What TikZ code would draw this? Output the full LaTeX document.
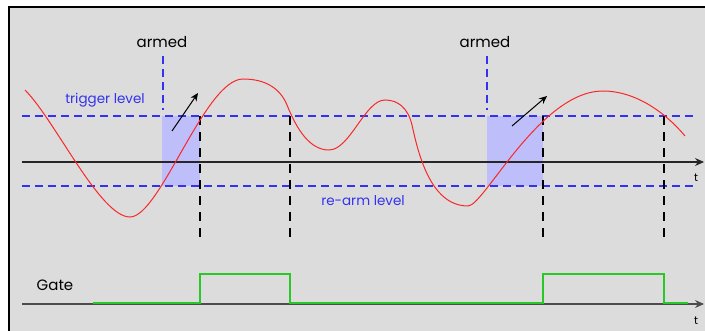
\documentclass[tikz,border=0pt]{standalone}
\usepackage{fontspec}
\setmainfont{Poppins}
\usetikzlibrary{arrows.meta}
\definecolor{bg}{RGB}{220,220,220}
\definecolor{lvl}{RGB}{50,50,240}
\definecolor{armfill}{RGB}{190,190,250}
\definecolor{sig}{RGB}{250,40,40}
\definecolor{gatecol}{RGB}{40,200,40}
\tikzset{
  lvlline/.style={lvl, line width=1.1pt, dash pattern=on 8pt off 5pt},
  edgeline/.style={black, line width=1.1pt, dash pattern=on 9pt off 7pt},
  axisline/.style={line width=1.2pt, -{Stealth[length=9pt,width=8pt]}},
  lbl/.style={inner sep=0pt, font=\fontsize{15}{15}\selectfont},
  blbl/.style={inner sep=0pt, text=lvl, font=\fontsize{13.5}{13.5}\selectfont},
  tlbl/.style={inner sep=0pt, font=\fontsize{11}{11}\selectfont},
}
\begin{document}
\begin{tikzpicture}[x=1pt,y=-1pt]
\useasboundingbox (0,0) rectangle (705,331);
\fill[white] (0,0) rectangle (705,331);
\fill[bg] (9,7) rectangle (705,331);
\draw[black, line width=1.2pt] (9,331) -- (9,7) -- (705,7);
% shaded armed regions
\fill[armfill] (162,116) rectangle (200,186);
\fill[armfill] (487,116) rectangle (543,186);
% coordinates
\coordinate (ax0) at (22,162);
\coordinate (ax1) at (704,162);
\coordinate (gx0) at (22,304);
\coordinate (gx1) at (704,304);
\coordinate (tr0) at (22,116);
\coordinate (tr1) at (697,116);
\coordinate (ra0) at (22,186);
\coordinate (ra1) at (697,186);
% axes
\draw[axisline, black!85] (ax0) -- (ax1);
\draw[axisline, black!70] (gx0) -- (gx1);
\node[tlbl] (t1) at (696,178) {t};
\node[tlbl] (t2) at (696,321) {t};
% levels
\draw[lvlline] (tr0) -- (tr1);
\draw[lvlline] (ra0) -- (ra1);
\node[blbl] (trig) at (105,100) {trigger level};
\node[blbl] (rearm) at (363,201) {re-arm level};
% armed markers
\node[lbl] (armed1) at (162,42) {armed};
\node[lbl] (armed2) at (485,42) {armed};
\coordinate (am1a) at (163,56);
\coordinate (am1b) at (163,110);
\coordinate (am2a) at (487,56);
\coordinate (am2b) at (487,110);
\draw[lvlline] (am1a) -- (am1b);
\draw[lvlline] (am2a) -- (am2b);
% edge markers
\foreach \x/\n in {200/e1,290/e2,543/e3,664/e4}{
  \coordinate (\n a) at (\x,116);
  \coordinate (\n b) at (\x,243);
  \draw[edgeline] (\n a) -- (\n b);
}
% rising arrows
\coordinate (r1a) at (172,131);
\coordinate (r1b) at (198,93);
\coordinate (r2a) at (512,126);
\coordinate (r2b) at (547,96);
\draw[line width=1pt, -{Stealth[length=8pt,width=7pt]}] (r1a) -- (r1b);
\draw[line width=1pt, -{Stealth[length=8pt,width=7pt]}] (r2a) -- (r2b);
% signal
\draw[sig, line width=1pt]
  (25,90) .. controls (55,120) and (100,217) .. (130,217)
  .. controls (160,217) and (205,79) .. (243,79)
  .. controls (265,79) and (280,88) .. (287,105)
  .. controls (297,130) and (310,150) .. (329,150)
  .. controls (350,150) and (365,100) .. (385,100)
  .. controls (398,100) and (408,108) .. (412,125)
  .. controls (418,152) and (430,206) .. (468,206)
  .. controls (484,206) and (540,91) .. (603,91)
  .. controls (635,91) and (665,112) .. (685,136);
% gate
\node[lbl] (gatel) at (55,285) {Gate};
\draw[gatecol, line width=1.3pt] (93,303) -- (200,303) -- (200,274) -- (290,274) -- (290,303)
  -- (543,303) -- (543,274) -- (664,274) -- (664,303) -- (688,303);
\end{tikzpicture}
\end{document}
